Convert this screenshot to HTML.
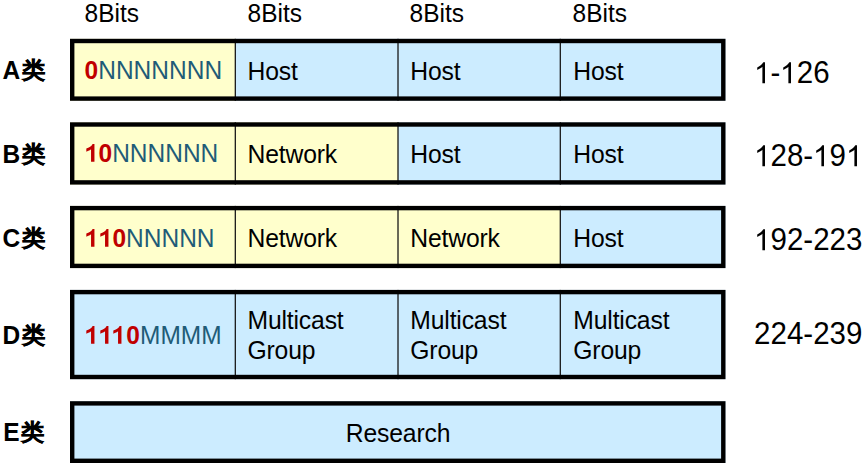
<!DOCTYPE html>
<html><head><meta charset="utf-8">
<style>
html,body{margin:0;padding:0;width:864px;height:465px;background:#fff;overflow:hidden;}
body{position:relative;font-family:"Liberation Sans",sans-serif;color:#000;}
.a{position:absolute;white-space:nowrap;transform:scaleY(1.04);transform-origin:0 0;}
.d1b{margin-right:0.3px;}
.d1{width:0.5562em;height:0.688em;vertical-align:baseline;fill:currentColor;overflow:visible;}
.bgsvg{position:absolute;left:0;top:0;}
.y{background:#FFFFCC;}
.b{background:#CCECFF;}
.dv{position:absolute;width:1px;background:#000;}
.ob{position:absolute;box-sizing:border-box;border:4px solid #000;}
.hdr{font-size:24.5px;line-height:24.5px;}
.lbl{font-size:24.5px;line-height:24.5px;font-weight:bold;}
.lbl i{font-style:normal;margin-left:1.5px;font-size:23.5px;-webkit-text-stroke:0.5px #000;display:inline-block;transform:scaleY(0.95);transform-origin:0 20%;}
.rng{font-size:29.5px;line-height:29.5px;transform:scaleY(1.04);}
.bits{font-size:24.5px;line-height:24.5px;}
.r{color:#C00000;font-weight:bold;letter-spacing:0px;}
.t{color:#1F5C78;}
.txt{font-size:24.7px;line-height:29.2px;letter-spacing:-0.15px;}
</style></head><body>
<svg class="bgsvg" width="864" height="465" viewBox="0 0 864 465"><rect x="70.0" y="38.8" width="165.30" height="62.0" fill="#FFFFCC"/><rect x="235.3" y="38.8" width="162.70" height="62.0" fill="#CCECFF"/><rect x="398.0" y="38.8" width="162.30" height="62.0" fill="#CCECFF"/><rect x="560.3" y="38.8" width="165.20" height="62.0" fill="#CCECFF"/><rect x="234.68" y="38.8" width="1.25" height="62.0" fill="#111"/><rect x="397.38" y="38.8" width="1.25" height="62.0" fill="#111"/><rect x="559.67" y="38.8" width="1.25" height="62.0" fill="#111"/><rect x="72.20" y="41.00" width="651.10" height="57.60" fill="none" stroke="#000" stroke-width="4.4"/><rect x="70.0" y="122.3" width="165.30" height="62.3" fill="#FFFFCC"/><rect x="235.3" y="122.3" width="162.70" height="62.3" fill="#FFFFCC"/><rect x="398.0" y="122.3" width="162.30" height="62.3" fill="#CCECFF"/><rect x="560.3" y="122.3" width="165.20" height="62.3" fill="#CCECFF"/><rect x="234.68" y="122.3" width="1.25" height="62.3" fill="#111"/><rect x="397.38" y="122.3" width="1.25" height="62.3" fill="#111"/><rect x="559.67" y="122.3" width="1.25" height="62.3" fill="#111"/><rect x="72.20" y="124.50" width="651.10" height="57.90" fill="none" stroke="#000" stroke-width="4.4"/><rect x="70.0" y="205.9" width="165.30" height="62.20000000000002" fill="#FFFFCC"/><rect x="235.3" y="205.9" width="162.70" height="62.20000000000002" fill="#FFFFCC"/><rect x="398.0" y="205.9" width="162.30" height="62.20000000000002" fill="#FFFFCC"/><rect x="560.3" y="205.9" width="165.20" height="62.20000000000002" fill="#CCECFF"/><rect x="234.68" y="205.9" width="1.25" height="62.20000000000002" fill="#111"/><rect x="397.38" y="205.9" width="1.25" height="62.20000000000002" fill="#111"/><rect x="559.67" y="205.9" width="1.25" height="62.20000000000002" fill="#111"/><rect x="72.20" y="208.10" width="651.10" height="57.80" fill="none" stroke="#000" stroke-width="4.4"/><rect x="70.0" y="289.9" width="165.30" height="89.30000000000001" fill="#CCECFF"/><rect x="235.3" y="289.9" width="162.70" height="89.30000000000001" fill="#CCECFF"/><rect x="398.0" y="289.9" width="162.30" height="89.30000000000001" fill="#CCECFF"/><rect x="560.3" y="289.9" width="165.20" height="89.30000000000001" fill="#CCECFF"/><rect x="234.68" y="289.9" width="1.25" height="89.30000000000001" fill="#111"/><rect x="397.38" y="289.9" width="1.25" height="89.30000000000001" fill="#111"/><rect x="559.67" y="289.9" width="1.25" height="89.30000000000001" fill="#111"/><rect x="72.20" y="292.10" width="651.10" height="84.90" fill="none" stroke="#000" stroke-width="4.4"/><rect x="70.0" y="401.2" width="655.5" height="61.80000000000001" fill="#CCECFF"/><rect x="72.20" y="403.40" width="651.10" height="57.40" fill="none" stroke="#000" stroke-width="4.4"/></svg>
<div id="h0" class="a hdr" style="left:84.5px;top:1px;">8Bits</div>
<div id="h1" class="a hdr" style="left:247.5px;top:1px;">8Bits</div>
<div id="h2" class="a hdr" style="left:409.5px;top:1px;">8Bits</div>
<div id="h3" class="a hdr" style="left:572.5px;top:1px;">8Bits</div>
<div id="bitsA" class="a bits" style="left:84.6px;top:58.4px;"><span class="r">0</span><span class="t">NNNNNNN</span></div>
<div id="txtA0" class="a txt" style="left:247.5px;top:55.5px;">Host</div>
<div id="txtA1" class="a txt" style="left:410.3px;top:55.5px;">Host</div>
<div id="txtA2" class="a txt" style="left:573.3px;top:55.5px;">Host</div>
<div id="lblA" class="a lbl" style="left:2.5px;top:58px;">A<i>类</i></div>
<div id="rngA" class="a rng" style="left:754.1px;top:57.1px;"><svg class="d1" viewBox="0 0 1139 1409"><path transform="matrix(1 0 0 -1 0 1409)" d="M763,0L583,0L583,1102C540,1063 483,1024 413,984C343,945 280,915 224,896L224,1063C325,1108 413,1163 488,1227C563,1292 616,1352 647,1409L763,1409Z"/></svg>-<svg class="d1" viewBox="0 0 1139 1409"><path transform="matrix(1 0 0 -1 0 1409)" d="M763,0L583,0L583,1102C540,1063 483,1024 413,984C343,945 280,915 224,896L224,1063C325,1108 413,1163 488,1227C563,1292 616,1352 647,1409L763,1409Z"/></svg>26</div>
<div id="bitsB" class="a bits" style="left:84.6px;top:141.4px;"><span class="r"><svg class="d1 d1b" viewBox="0 0 1139 1409"><path transform="matrix(1 0 0 -1 0 1409)" d="M790,0L505,0L505,990C420,915 290,850 110,800L110,1060C210,1092 330,1140 430,1200C530,1262 600,1330 640,1409L790,1409Z"/></svg>0</span><span class="t">NNNNNN</span></div>
<div id="txtB0" class="a txt" style="left:247.5px;top:139px;">Network</div>
<div id="txtB1" class="a txt" style="left:410.3px;top:139px;">Host</div>
<div id="txtB2" class="a txt" style="left:573.3px;top:139px;">Host</div>
<div id="lblB" class="a lbl" style="left:2.5px;top:142px;">B<i>类</i></div>
<div id="rngB" class="a rng" style="left:754.1px;top:140.0px;"><svg class="d1" viewBox="0 0 1139 1409"><path transform="matrix(1 0 0 -1 0 1409)" d="M763,0L583,0L583,1102C540,1063 483,1024 413,984C343,945 280,915 224,896L224,1063C325,1108 413,1163 488,1227C563,1292 616,1352 647,1409L763,1409Z"/></svg>28-<svg class="d1" viewBox="0 0 1139 1409"><path transform="matrix(1 0 0 -1 0 1409)" d="M763,0L583,0L583,1102C540,1063 483,1024 413,984C343,945 280,915 224,896L224,1063C325,1108 413,1163 488,1227C563,1292 616,1352 647,1409L763,1409Z"/></svg>9<svg class="d1" viewBox="0 0 1139 1409"><path transform="matrix(1 0 0 -1 0 1409)" d="M763,0L583,0L583,1102C540,1063 483,1024 413,984C343,945 280,915 224,896L224,1063C325,1108 413,1163 488,1227C563,1292 616,1352 647,1409L763,1409Z"/></svg></div>
<div id="bitsC" class="a bits" style="left:84.6px;top:225.9px;"><span class="r"><svg class="d1 d1b" viewBox="0 0 1139 1409"><path transform="matrix(1 0 0 -1 0 1409)" d="M790,0L505,0L505,990C420,915 290,850 110,800L110,1060C210,1092 330,1140 430,1200C530,1262 600,1330 640,1409L790,1409Z"/></svg><svg class="d1 d1b" viewBox="0 0 1139 1409"><path transform="matrix(1 0 0 -1 0 1409)" d="M790,0L505,0L505,990C420,915 290,850 110,800L110,1060C210,1092 330,1140 430,1200C530,1262 600,1330 640,1409L790,1409Z"/></svg>0</span><span class="t">NNNNN</span></div>
<div id="txtC0" class="a txt" style="left:247.5px;top:223px;">Network</div>
<div id="txtC1" class="a txt" style="left:410.3px;top:223px;">Network</div>
<div id="txtC2" class="a txt" style="left:573.3px;top:223px;">Host</div>
<div id="lblC" class="a lbl" style="left:2.5px;top:226px;">C<i>类</i></div>
<div id="rngC" class="a rng" style="left:754.1px;top:224.0px;"><svg class="d1" viewBox="0 0 1139 1409"><path transform="matrix(1 0 0 -1 0 1409)" d="M763,0L583,0L583,1102C540,1063 483,1024 413,984C343,945 280,915 224,896L224,1063C325,1108 413,1163 488,1227C563,1292 616,1352 647,1409L763,1409Z"/></svg>92-223</div>
<div id="bitsD" class="a bits" style="left:84.6px;top:323.4px;"><span class="r"><svg class="d1 d1b" viewBox="0 0 1139 1409"><path transform="matrix(1 0 0 -1 0 1409)" d="M790,0L505,0L505,990C420,915 290,850 110,800L110,1060C210,1092 330,1140 430,1200C530,1262 600,1330 640,1409L790,1409Z"/></svg><svg class="d1 d1b" viewBox="0 0 1139 1409"><path transform="matrix(1 0 0 -1 0 1409)" d="M790,0L505,0L505,990C420,915 290,850 110,800L110,1060C210,1092 330,1140 430,1200C530,1262 600,1330 640,1409L790,1409Z"/></svg><svg class="d1 d1b" viewBox="0 0 1139 1409"><path transform="matrix(1 0 0 -1 0 1409)" d="M790,0L505,0L505,990C420,915 290,850 110,800L110,1060C210,1092 330,1140 430,1200C530,1262 600,1330 640,1409L790,1409Z"/></svg>0</span><span class="t">MMMM</span></div>
<div id="txtD0" class="a txt" style="left:247.5px;top:304.8px;">Multicast<br>Group</div>
<div id="txtD1" class="a txt" style="left:410.3px;top:304.8px;">Multicast<br>Group</div>
<div id="txtD2" class="a txt" style="left:573.3px;top:304.8px;">Multicast<br>Group</div>
<div id="lblD" class="a lbl" style="left:2.5px;top:322.5px;">D<i>类</i></div>
<div id="rngD" class="a rng" style="left:754.1px;top:318.0px;">224-239</div>
<div id="txtE" class="a txt" style="left:345.8px;top:418px;">Research</div>
<div id="lblE" class="a lbl" style="left:3.3px;top:420.4px;">E<i>类</i></div>
</body></html>
